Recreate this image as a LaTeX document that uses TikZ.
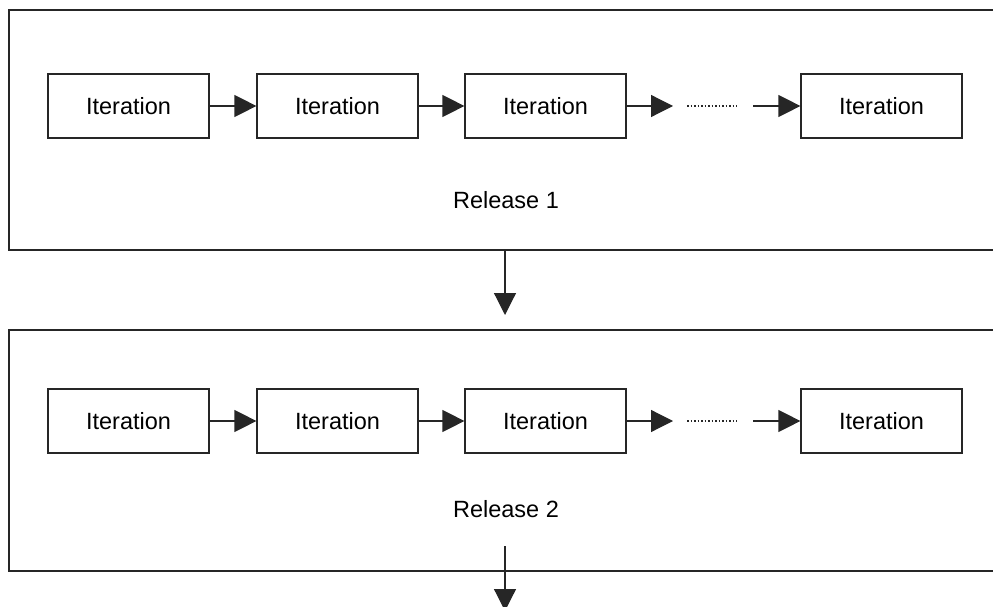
\documentclass[tikz,border=0pt]{standalone}
\usepackage{fontspec}
\setmainfont{Liberation Sans}
\usetikzlibrary{arrows.meta}
\tikzset{
  release/.style={draw=black!85, line width=1.3pt, minimum width=992pt, inner sep=0pt, anchor=center},
  iter/.style={draw=black!85, line width=1.2pt, minimum width=161pt, minimum height=64pt, inner sep=0pt, font=\fontsize{23.5}{26}\selectfont, fill=white},
  rlabel/.style={font=\fontsize{23.5}{26}\selectfont, inner sep=0pt},
  flow/.style={draw=black!85, line width=1.2pt, -{Triangle[length=22pt,width=22pt]}},
  dots/.style={draw=black!85, line width=1.8pt, dash pattern=on 1.6pt off 1.9pt}
}
\begin{document}
\begin{tikzpicture}[x=1pt,y=-1pt]
\useasboundingbox (0,0) rectangle (993,607);
\clip (0,0) rectangle (993,607);
% two release frames, each holding a row of iterations
% \r: release number, \fy: frame centre, \fh: frame height, \ry: row centre, \ly: label centre
\foreach \r/\fy/\fh/\ry/\ly in {1/130/240/106/200.5, 2/450.5/241/421/509} {
    \node[release, minimum height=\fh pt] (rel\r) at (505,\fy) {};
    \node[rlabel] (lab\r) at (506,\ly) {Release \r};
    \node[iter] (i\r a) at (128.5,\ry) {Iteration};
    \node[iter] (i\r b) at (337.5,\ry) {Iteration};
    \node[iter] (i\r c) at (545.5,\ry) {Iteration};
    \node[iter] (i\r d) at (881.5,\ry) {Iteration};
    \coordinate (h\r) at (673,\ry);
    \coordinate (ds\r) at (687,\ry);
    \coordinate (de\r) at (737,\ry);
    \coordinate (t\r) at (753,\ry);
    \path[flow] (i\r a.east) -- (i\r b.west);
    \path[flow] (i\r b.east) -- (i\r c.west);
    \path[flow] (i\r c.east) -- (h\r);
    \path[dots] (ds\r) -- (de\r);
    \path[flow] (t\r) -- (i\r d.west);
}
% flow between releases
\coordinate (down1) at (505,315);
\path[flow] (rel1.south -| down1) -- (down1);
\coordinate (up2) at (505,546);
\coordinate (down2) at (505,611);
\path[flow] (up2) -- (down2);
\end{tikzpicture}
\end{document}
